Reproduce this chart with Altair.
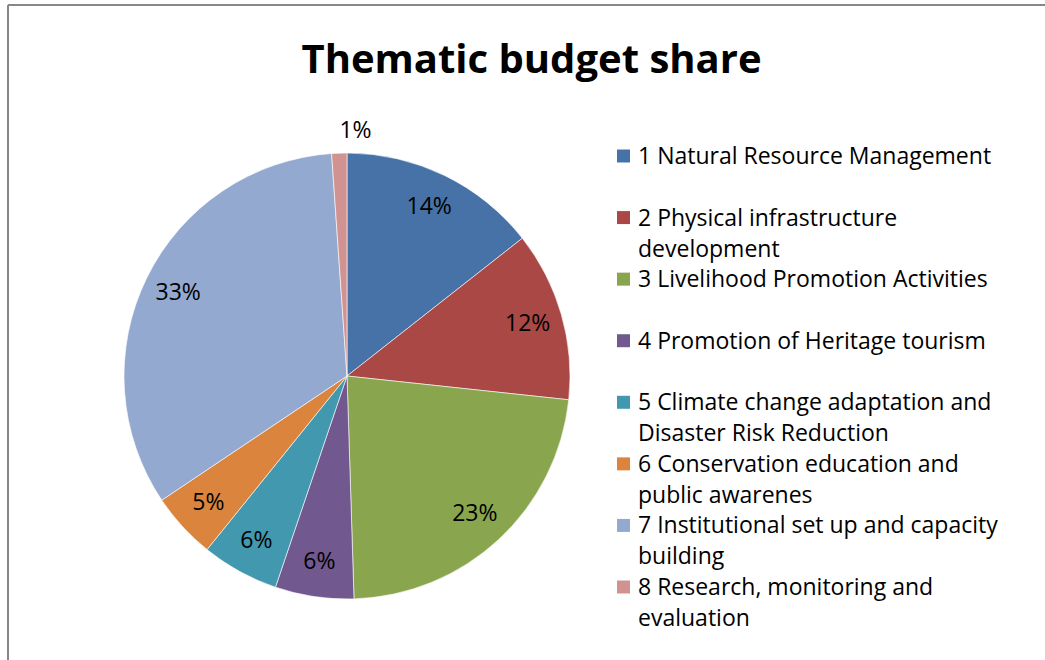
import altair as alt
import pandas as pd

categories = [
    "1 Natural Resource Management",
    "2 Physical infrastructure|development",
    "3 Livelihood Promotion Activities",
    "4 Promotion of Heritage tourism",
    "5 Climate change adaptation and|Disaster Risk Reduction",
    "6 Conservation education and|public awarenes",
    "7 Institutional set up and capacity|building",
    "8 Research, monitoring and|evaluation",
]
values = [14.4, 12.3, 22.8, 5.7, 5.6, 4.8, 33.3, 1.1]
labels = ["14%", "12%", "23%", "6%", "6%", "5%", "33%", "1%"]
colors = ["#4672A8", "#A94845", "#89A54E", "#71588F", "#4198AF", "#DB843D", "#93A9CF", "#D19392"]

df = pd.DataFrame({"cat": categories, "value": values, "label": labels,
                   "order": list(range(len(categories)))})

FONT = "Open Sans"
CX, CY = 347, 371
color = alt.Color("cat:N", scale=alt.Scale(domain=categories, range=colors), legend=None)
theta = alt.Theta("value:Q", stack=True)

base = alt.Chart(df)

pie = base.mark_arc(outerRadius=223, stroke="#ffffff", strokeWidth=0.6).encode(
    theta=theta, color=color, order=alt.Order("order:Q"),
    x=alt.value(CX), y=alt.value(CY),
)

pie_text = base.transform_calculate(
    r="datum.value < 2 ? 245 : 188"
).mark_text(font=FONT, fontSize=23, color="#000000").encode(
    theta=theta, order=alt.Order("order:Q"),
    radius=alt.Radius("r:Q", scale=None),
    text="label:N",
    x=alt.value(CX), y=alt.value(CY),
)

ypos = alt.Y("cat:N", sort=categories, axis=None,
             scale=alt.Scale(domain=categories, range=[151, 582], padding=0))

leg_sq = base.mark_square(size=169, opacity=1, shape="square").encode(
    x=alt.value(623.5), y=ypos, color=color,
)

leg_txt = base.transform_calculate(
    lines="split(datum.cat, '|')"
).mark_text(font=FONT, fontSize=23, align="left", baseline="alphabetic",
            dy=8, lineHeight=31, color="#000000").encode(
    x=alt.value(638), y=ypos, text="lines:N",
)

frame = alt.Chart(pd.DataFrame({"k": [0]})).mark_rule(color="#878787", strokeWidth=2).encode(
    x=alt.value(8), x2=alt.value(1045), y=alt.value(0), y2=alt.value(0)
)
frame2 = alt.Chart(pd.DataFrame({"k": [0]})).mark_rule(color="#878787", strokeWidth=2).encode(
    x=alt.value(8), x2=alt.value(8), y=alt.value(0), y2=alt.value(655)
)

chart = alt.layer(pie, pie_text, leg_sq, leg_txt, frame, frame2).properties(
    width=1045, height=655,
    title=alt.TitleParams("Thematic budget share", font=FONT, fontSize=40,
                          fontWeight="bold", color="#000000", anchor="middle",
                          baseline="bottom", offset=-117, dx=9),
    autosize=alt.AutoSizeParams(type="none"),
    padding={"top": 5, "left": 0, "right": 0, "bottom": 0},
    background="#ffffff",
).configure_view(stroke=None)

chart.save("out.html", embed_options={"renderer": "svg", "actions": False})
